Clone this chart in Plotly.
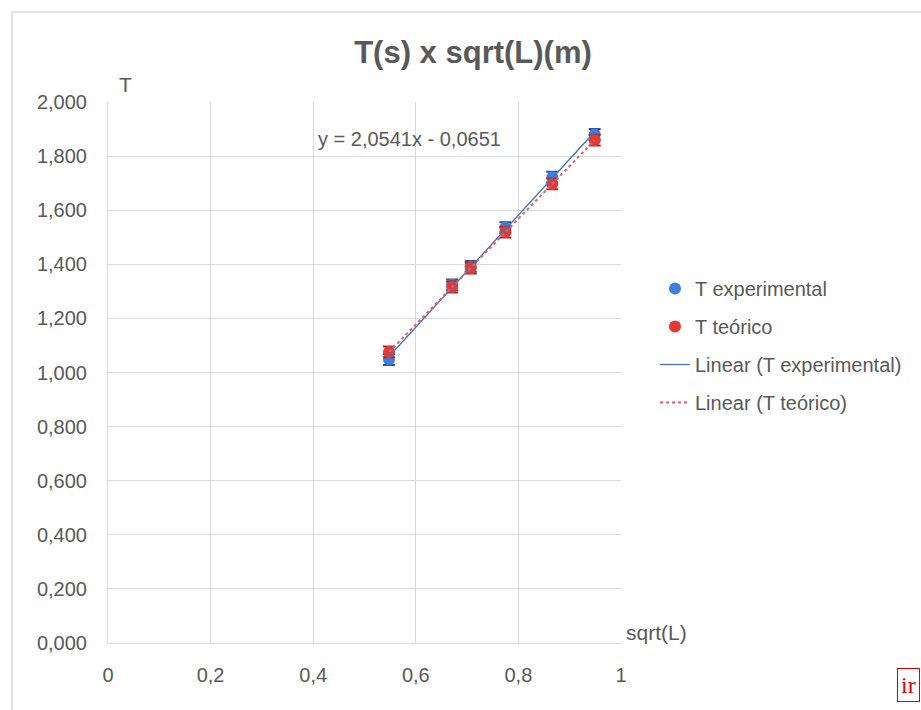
import numpy as np
import plotly.graph_objects as go

# ---- data ----
sqrt_L = [0.5477, 0.6708, 0.7071, 0.7746, 0.8660, 0.9487]
T_experimental = [1.048, 1.324, 1.392, 1.535, 1.722, 1.880]
T_teorico = [1.076, 1.316, 1.386, 1.519, 1.697, 1.859]
err_experimental = [0.02, 0.02, 0.02, 0.02, 0.02, 0.02]
err_teorico = [0.02, 0.02, 0.02, 0.02, 0.02, 0.02]

title_text = "T(s) x sqrt(L)(m)"
x_title = "sqrt(L)"
y_title = "T"
equation_text = "y = 2,0541x - 0,0651"
names = ["T experimental", "T teórico", "Linear (T experimental)", "Linear (T teórico)"]

BLUE = "#3f7fe0"
RED = "#e23a36"
GRAY = "#595959"
GRID = "#d9d9d9"
FONT = "Liberation Sans, Arial, sans-serif"

x_arr = np.array(sqrt_L)
fit_e = np.polyfit(x_arr, np.array(T_experimental), 1)
fit_t = np.polyfit(x_arr, np.array(T_teorico), 1)
x_line = [min(sqrt_L), max(sqrt_L)]

fig = go.Figure()
fig.add_trace(go.Scatter(
    x=sqrt_L, y=T_experimental, mode="markers", name=names[0], legendgroup="a",
    marker=dict(color=BLUE, size=12),
    error_y=dict(type="data", array=err_experimental, color="#2a4f9a", thickness=2, width=6),
))
fig.add_trace(go.Scatter(
    x=sqrt_L, y=T_teorico, mode="markers", name=names[1], legendgroup="b",
    marker=dict(color=RED, size=12),
    error_y=dict(type="data", array=err_teorico, color="#a32a28", thickness=2, width=6),
))
fig.add_trace(go.Scatter(
    x=x_line, y=[fit_e[0] * v + fit_e[1] for v in x_line], mode="lines", name=names[2],
    legendgroup="c", line=dict(color="#4472c4", width=1.3),
))
fig.add_trace(go.Scatter(
    x=x_line, y=[fit_t[0] * v + fit_t[1] for v in x_line], mode="lines", name=names[3],
    legendgroup="d", line=dict(color="#e06070", width=2, dash="dot"),
))

L, R, T, B = 108, 300, 102, 67
W, H = 921, 710
pw, ph = W - L - R, H - T - B


def px_x(p):
    return (p - L) / pw


def px_y(p):
    return (H - B - p) / ph


fig.update_layout(
    width=W, height=H,
    margin=dict(l=L, r=R, t=T, b=B),
    paper_bgcolor="white", plot_bgcolor="white",
    separators=",.",
    font=dict(family=FONT, color=GRAY, size=20),
    title=dict(text="<b>" + title_text + "</b>", xref="container", x=473 / W, xanchor="center",
               yref="container", y=1 - 52 / H, yanchor="middle",
               font=dict(size=31, color=GRAY, family=FONT)),
    xaxis=dict(range=[0, 1], dtick=0.2, tick0=0, showgrid=True, gridcolor=GRID, gridwidth=1,
               showline=True, linecolor=GRID, linewidth=1, zeroline=False, ticks="",
               tickfont=dict(size=20, color=GRAY), ticklabelstandoff=14),
    yaxis=dict(range=[0, 2], dtick=0.2, tick0=0, showgrid=True, gridcolor=GRID, gridwidth=1,
               showline=True, linecolor=GRID, linewidth=1, zeroline=False, ticks="",
               tickformat=".3f", tickfont=dict(size=20, color=GRAY), ticklabelstandoff=16),
    legend=dict(x=px_x(655), y=px_y(269), xanchor="left", yanchor="top",
                font=dict(size=20, color=GRAY, family=FONT), tracegroupgap=9,
                bgcolor="rgba(0,0,0,0)"),
    showlegend=True,
    shapes=[dict(type="rect", xref="paper", yref="paper",
                 x0=px_x(12), x1=px_x(940), y0=px_y(730), y1=px_y(12),
                 line=dict(color=GRID, width=1.5), fillcolor="rgba(0,0,0,0)", layer="below")],
    annotations=[
        dict(text=y_title, xref="paper", yref="paper", x=px_x(125), y=px_y(84),
             xanchor="center", yanchor="middle", showarrow=False, font=dict(size=21, color=GRAY)),
        dict(text=x_title, xref="paper", yref="paper", x=px_x(624), y=px_y(632),
             xanchor="left", yanchor="middle", showarrow=False, font=dict(size=21, color=GRAY)),
        dict(text=equation_text, xref="x", yref="y", x=px_x(409), y=2 * px_y(139),
             xanchor="center", yanchor="middle", showarrow=False, font=dict(size=20, color=GRAY)),
        dict(text="ir", xref="paper", yref="paper", x=px_x(897), y=px_y(668),
             xanchor="left", yanchor="top", showarrow=False, align="left",
             font=dict(size=24, color="#e00000", family="Liberation Serif, serif"),
             bordercolor="#e00000", borderwidth=1, borderpad=3),
    ],
)

fig.write_html("out.html", config={"displayModeBar": False},
               post_script="document.body.style.margin='0';document.body.style.overflow='hidden';")
